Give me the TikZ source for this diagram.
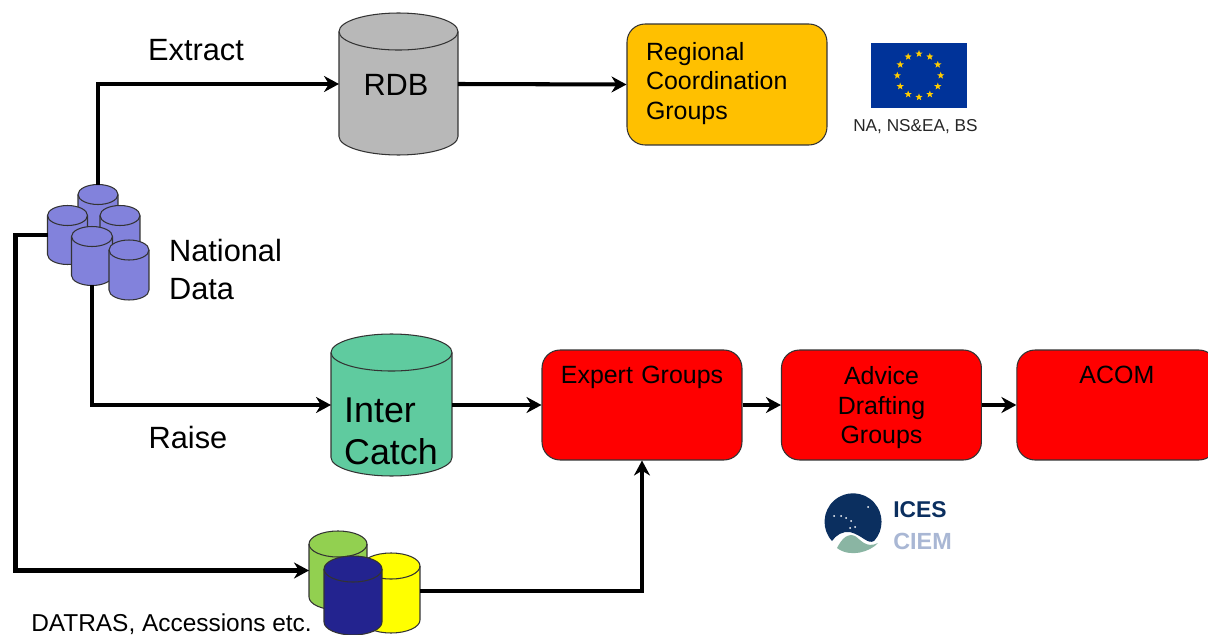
\documentclass[tikz,border=0pt]{standalone}
\usepackage{xcolor}
\usepackage{fontspec}
\setmainfont{Liberation Sans}
\usetikzlibrary{shapes.geometric,arrows.meta,positioning}
\definecolor{natblue}{HTML}{8282DC}
\definecolor{navyblue}{HTML}{23238F}
\definecolor{rdbgrey}{HTML}{B8B8B8}
\definecolor{intergreen}{HTML}{5FCB9F}
\definecolor{datgreen}{HTML}{92D050}
\definecolor{datyellow}{HTML}{FFFF00}
\definecolor{regorange}{HTML}{FFC000}
\definecolor{flagblue}{HTML}{003399}
\definecolor{flagstar}{HTML}{FFCC00}
\definecolor{icesblue}{HTML}{0B2F5F}
\definecolor{ciemblue}{HTML}{A9B7D4}
\definecolor{icesgreen}{HTML}{8AB5A3}
\tikzstyle{block} = [rectangle, draw=black!80, line width=0.6pt, rounded corners=0.36cm, minimum height=2.2cm, minimum width=4cm, text width=3.7cm, align=center, inner sep=0pt, fill=red, font=\fontsize{14.2}{17}\selectfont]
\tikzstyle{lbl} = [font=\fontsize{17.5}{22}\selectfont, align=left]
\tikzstyle{flow} = [line width=2.3pt]
\tikzstyle{canline} = [draw=black!80, line width=0.6pt]
\tikzstyle{euStar} = [star, star points=5, star point ratio=2.4, fill=flagstar, inner sep=0pt, minimum size=0.15cm]
% depth, text
\newcommand{\lastline}[2]{\raisebox{0pt}[\height][#1]{#2}}
% name, x, y, width, height, end radius, colour
\newcommand{\drum}[7]{
	\node[rectangle, inner sep=0pt, outer sep=0pt, minimum width=#4cm, minimum height=#5cm] (#1) at (#2,#3) {};
	\draw[canline, fill=#7] ([yshift=-#6cm]#1.north west) arc[start angle=180, end angle=0, x radius=#4cm/2, y radius=#6cm] -- ([yshift=#6cm]#1.south east) arc[start angle=360, end angle=180, x radius=#4cm/2, y radius=#6cm] -- cycle;
	\draw[canline] ([yshift=-#6cm]#1.north west) arc[start angle=180, end angle=360, x radius=#4cm/2, y radius=#6cm];
}

\begin{document}
\begin{tikzpicture}[x=0.02cm, y=-0.02cm, >={Stealth[length=0.3cm,width=0.32cm]}]
	\useasboundingbox (0,0) rectangle (1208,635);
	% national data
	\drum{nat1}{98}{214}{0.8}{1.18}{0.2}{natblue}
	\drum{nat3}{120}{235}{0.8}{1.18}{0.2}{natblue}
	\drum{nat2}{67.5}{235}{0.8}{1.18}{0.2}{natblue}
	\drum{nat4}{92}{256}{0.82}{1.18}{0.2}{natblue}
	\drum{nat5}{129}{270}{0.8}{1.2}{0.2}{natblue}
	\node[lbl] (natlbl) at (225.5,269.5) {National\\Data};
	% top row
	\drum{rdb}{398.5}{84}{2.38}{2.84}{0.37}{rdbgrey}
	\node[font=\fontsize{17.5}{22}\selectfont] (rdbtxt) at (396,85) {RDB};
	\node[block, fill=regorange, minimum height=2.42cm, text width=3.24cm, align=left] (reg) at (727,84.5) {Regional\\Coordination\\\lastline{4.1pt}{Groups}};
	\node[lbl] (extract) at (196,50) {Extract};
	% flag
	\node[rectangle, fill=flagblue, minimum width=1.92cm, minimum height=1.3cm, inner sep=0pt] (flag) at (919,75.5) {};
	\foreach \a in {0,30,...,330}
		\node[euStar] (s\a) at ([shift={(\a:21.7)}]flag.center) {};
	\node[font=\fontsize{9.8}{12}\selectfont, text=black!85] (eulbl) at (915.5,127) {NA, NS\&EA, BS};
	% middle row
	\drum{inter}{391.5}{405}{2.42}{2.84}{0.37}{intergreen}
	\node[align=left, font=\fontsize{20.4}{24}\selectfont] (intertxt) at (391,431) {Inter\\Catch};
	\node[block] (expert) at (642,405) {Expert Groups\\~\\\lastline{-2.8pt}{~}};
	\node[block, right of=expert, node distance=4.79cm] (advice) {Advice\\Drafting\\\lastline{-2.8pt}{Groups}};
	\node[block, right of=advice, node distance=4.71cm] (acom) {ACOM\\~\\\lastline{-2.8pt}{~}};
	\node[lbl] (raise) at (188,438) {Raise};
	% bottom cans
	\drum{green}{338}{570.5}{1.16}{1.58}{0.26}{datgreen}
	\drum{yellow}{391}{593}{1.16}{1.6}{0.26}{datyellow}
	\drum{navy}{353}{595.5}{1.16}{1.58}{0.26}{navyblue}
	\node[font=\fontsize{13.9}{16}\selectfont] (datlbl) at (171.5,624) {DATRAS, Accessions etc.};
	% ices logo
	\fill[icesblue] (832,541) arc[start angle=137.6, end angle=402, radius=28.5] .. controls (868,545) and (862,535) .. (850,532) .. controls (843,531) and (836,535) .. cycle;
	\fill[icesgreen] (837,548) .. controls (842,538) and (848,533) .. (855,536) .. controls (860,539) and (866,549) .. (878,543) .. controls (870,552) and (850,558) .. cycle;
	\foreach \px/\py in {834/516,841/516,846/518,851/521,855/527,850/528,868/507}
		\fill[white] (\px,\py) circle[radius=1];
	\node[font=\bfseries\fontsize{13}{15}\selectfont, text=icesblue] (ices) at (920,510) {ICES};
	\node[font=\bfseries\fontsize{13.3}{15}\selectfont, text=ciemblue] (ciem) at (922.5,541) {CIEM};
	% connectors
	\draw[flow,->] (nat1.north) |- (rdb.west);
	\draw[flow,->] (rdb.east) -- (reg.west);
	\draw[flow,->] (nat4.south) |- (inter.west);
	\draw[flow,->] (nat2.west) -- ++(-32,0) |- (green.west);
	\draw[flow,->] (inter.east) -- (expert.west);
	\draw[flow,->] (expert.east) -- (advice.west);
	\draw[flow,->] (advice.east) -- (acom.west);
	\draw[flow,->] ([yshift=0.04cm]yellow.east) -| (expert.south);
\end{tikzpicture}
\end{document}
